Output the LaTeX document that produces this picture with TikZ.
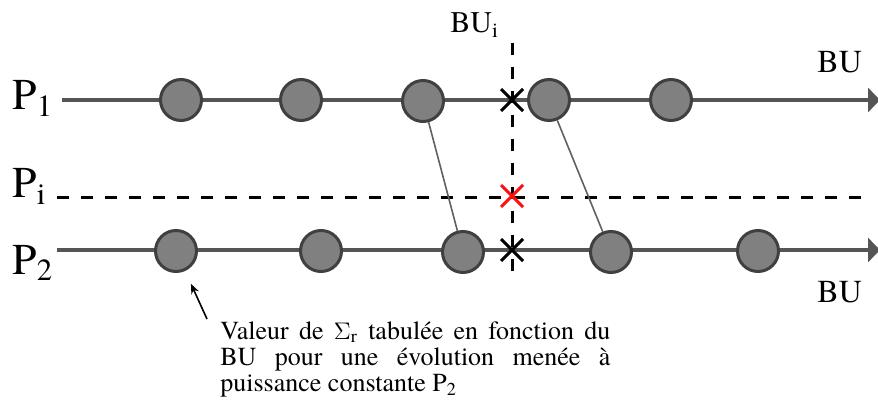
\documentclass[tikz,border=0pt]{standalone}
\usepackage{fontspec}
\setmainfont{texgyretermes}[Extension=.otf, UprightFont=*-regular, BoldFont=*-bold, ItalicFont=*-italic]
\usetikzlibrary{arrows.meta}
\definecolor{linegray}{HTML}{555555}
\definecolor{dotfill}{HTML}{808080}
\definecolor{dotedge}{HTML}{404040}
\definecolor{linkgray}{HTML}{606060}
\definecolor{xred}{HTML}{FF1010}
\tikzset{
  axisline/.style={linegray, line width=1.75pt, -{Triangle[length=6pt,width=12pt]}},
  dot/.style={circle, draw=dotedge, fill=dotfill, line width=1.5pt, minimum size=20.5pt, inner sep=0pt},
  dashline/.style={black, line width=1.5pt, dash pattern=on 6pt off 6pt},
  link/.style={linkgray, line width=0.8pt},
  crossmark/.style={line width=1.5pt},
  bigP/.style={font=\fontsize{22}{24}\selectfont, anchor=base west, inner sep=0pt},
  bulabel/.style={font=\fontsize{16}{18}\selectfont, anchor=base west, inner sep=0pt},
  caption/.style={font=\fontsize{13}{13}\selectfont, text width=195pt, align=justify, anchor=north west, inner sep=0pt},
}
\begin{document}
\begin{tikzpicture}[x=0.5pt,y=-0.5pt]
\useasboundingbox (0,0) rectangle (878,417);
% labels
\node[bigP] (lp1) at (12,110) {P\textsubscript{1}};
\node[bigP] (lpi) at (12,198) {P\textsubscript{i}};
\node[bigP] (lp2) at (12,274) {P\textsubscript{2}};
\node[bulabel, font=\fontsize{15}{17}\selectfont] (lbui) at (450,33) {BU\textsubscript{i}};
\node[bulabel] (lbu1) at (817,73) {BU};
\node[bulabel] (lbu2) at (817,302) {BU};
% axis lines
\coordinate (a1s) at (62,100);
\coordinate (a1e) at (880,100);
\coordinate (a2s) at (57,250);
\coordinate (a2e) at (880,250);
\coordinate (pis) at (57,197);
\coordinate (pie) at (862,197);
\coordinate (vts) at (512,43);
\coordinate (vte) at (512,273);
\draw[axisline] (a1s) -- (a1e);
\draw[axisline] (a2s) -- (a2e);
\draw[dashline] (pis) -- (pie);
\draw[dashline] (vts) -- (vte);
% dots
\node[dot] (c11) at (181,100) {};
\node[dot] (c12) at (301,100) {};
\node[dot] (c13) at (423,101) {};
\node[dot] (c14) at (549,100) {};
\node[dot] (c15) at (671,100) {};
\node[dot] (c21) at (176,251) {};
\node[dot] (c22) at (321,251) {};
\node[dot] (c23) at (463,252) {};
\node[dot] (c24) at (611,252) {};
\node[dot] (c25) at (758,251) {};
% links
\draw[link] (c13) -- (c23);
\draw[link] (c14) -- (c24);
% crosses
\coordinate (x1) at (512,100);
\coordinate (xi) at (512,196);
\coordinate (x2) at (512,250);
\draw[crossmark, black] (x1) ++(-11,-11) -- ++(22,22) (x1) ++(-11,11) -- ++(22,-22);
\draw[crossmark, xred] (xi) ++(-11,-11) -- ++(22,22) (xi) ++(-11,11) -- ++(22,-22);
\draw[crossmark, black] (x2) ++(-11,-11) -- ++(22,22) (x2) ++(-11,11) -- ++(22,-22);
% caption and pointer
\coordinate (tail) at (207,319);
\draw[black, line width=0.8pt, -{Stealth[length=5pt,width=4pt]}, shorten >=7pt] (tail) -- (c21);
\node[caption] (cap) at (220,321) {\hyphenpenalty=10000 Valeur de $\Sigma$\textsubscript{r} tabulée en fonction du\linebreak BU pour une évolution menée à\linebreak puissance constante P\textsubscript{2}};
\end{tikzpicture}
\end{document}
